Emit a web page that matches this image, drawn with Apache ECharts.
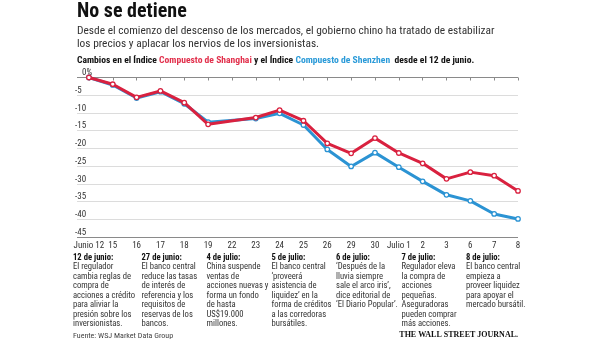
<!DOCTYPE html>
<html>
<head>
<meta charset="utf-8">
<script src="https://cdn.jsdelivr.net/npm/echarts@6/dist/echarts.min.js"></script>
<style>
  html, body { margin: 0; padding: 0; background: #fff; }
  #chart { width: 600px; height: 344px; }
</style>
</head>
<body>
<div id="chart"></div>
<script>
// Trading days since 12 June
var dates = ['Junio 12', '15', '16', '17', '18', '19', '22', '23', '24', '25', '26', '29', '30', 'Julio 1', '2', '3', '6', '7', '8'];
// Cumulative change, percent (22 June has no marker in the series)
var shanghai = [0, -1.9, -5.6, -3.8, -7.1, -13.2, null, -11.3, -9.2, -12.2, -18.6, -21.4, -17.1, -21.3, -24.2, -28.6, -26.7, -27.7, -32.0];
var shenzhen = [0, -2.1, -5.8, -4.0, -7.4, -12.6, null, -11.6, -10.1, -13.4, -20.3, -25.1, -21.2, -25.3, -29.3, -33.1, -34.8, -38.5, -39.9];
var yTicks = [-45, -40, -35, -30, -25, -20, -15, -10, -5, 0];

// Policy responses listed under the chart
var eventHeads = ['12 de junio:', '27 de junio:', '4 de julio:', '5 de julio:', '6 de julio:', '7 de julio:', '8 de julio:'];
var eventBodies = [
  ['El regulador', 'cambia reglas de', 'compra de', 'acciones a crédito', 'para aliviar la', 'presión sobre los', 'inversionistas.'],
  ['El banco central', 'reduce las tasas', 'de interés de', 'referencia y los', 'requisitos de', 'reservas de los', 'bancos.'],
  ['China suspende', 'ventas de', 'acciones nuevas y', 'forma un fondo', 'de hasta', 'US$19.000', 'millones.'],
  ['El banco central', '\u2018proveerá', 'asistencia de', 'liquidez\u2019 en la', 'forma de créditos', 'a las corredoras', 'bursátiles.'],
  ['\u2018Después de la', 'lluvia siempre', 'sale el arco iris\u2019,', 'dice editorial de', '\u2018El Diario Popular\u2019.'],
  ['Regulador eleva', 'la compra de', 'acciones', 'pequeñas.', 'Aseguradoras', 'pueden comprar', 'más acciones.'],
  ['El banco central', 'empieza a', 'proveer liquidez', 'para apoyar el', 'mercado bursátil.']
];

var NARROW = '"Liberation Sans Narrow", "Arial Narrow", "Roboto Condensed", sans-serif';
var RED = '#d9213f';
var BLUE = '#2b93d3';

var chart = echarts.init(document.getElementById('chart'), null, { renderer: 'canvas' });

function pairs(arr) {
  return arr.map(function (v, i) { return [i, v]; });
}

var idx = dates.map(function (d, i) { return i; });

var graphics = [
  { type: 'text', left: 77, top: 2, style: { text: 'No se detiene', font: 'bold 20px ' + NARROW, fill: '#111' } },
  { type: 'text', left: 77, top: 25, style: { text: 'Desde el comienzo del descenso de los mercados, el gobierno chino ha tratado de estabilizar\nlos precios y aplacar los nervios de los inversionistas.', font: '11.4px ' + NARROW, fill: '#333', lineHeight: 12.5 } },
  { type: 'text', left: 77, top: 56, style: {
      text: '{b|Cambios en el Índice }{r|Compuesto de Shanghai}{b| y el Índice }{l|Compuesto de Shenzhen}{b|  desde el 12 de junio.}',
      rich: {
        b: { font: 'bold 9.6px ' + NARROW, fill: '#111' },
        r: { font: 'bold 9.6px ' + NARROW, fill: '#e2304c' },
        l: { font: 'bold 9.6px ' + NARROW, fill: '#2a9ad8' }
      }
  } },
  { type: 'text', left: 73, top: 332, style: { text: 'Fuente: WSJ Market Data Group', font: '8px ' + NARROW, fill: '#444' } },
  { type: 'text', right: 82, top: 331, style: { text: 'THE WALL STREET JOURNAL.', font: 'bold 8px "Liberation Serif", serif', fill: '#111' } }
];

var colX = [73, 141.5, 206.5, 271.5, 336, 401.5, 466];
eventHeads.forEach(function (h, i) {
  graphics.push({ type: 'text', left: colX[i], top: 253, style: { text: h, font: 'bold 8.6px ' + NARROW, fill: '#111' } });
  graphics.push({ type: 'text', left: colX[i], top: 262.5, style: { text: eventBodies[i].join('\n'), font: '8.6px ' + NARROW, fill: '#333', lineHeight: 9.5 } });
});

var gridColors = yTicks.map(function (v, i) { return (i === 0 || i === yTicks.length - 1) ? '#8a8a8a' : '#dcdcdc'; });

chart.setOption({
  animation: false,
  backgroundColor: '#fff',
  graphic: graphics,
  grid: { left: 77, right: 82, top: 77.5, bottom: 107 },
  xAxis: {
    type: 'value',
    min: -0.5,
    max: dates.length - 1,
    axisLine: { show: false },
    splitLine: { show: false },
    axisTick: { show: true, customValues: idx, length: 3, inside: false, lineStyle: { color: '#8a8a8a' } },
    axisLabel: {
      customValues: idx,
      formatter: function (v) { return dates[Math.round(v)]; },
      fontFamily: NARROW, fontSize: 9, color: '#333', margin: 4
    }
  },
  yAxis: {
    type: 'value',
    min: -45,
    max: 0,
    interval: 5,
    axisLine: { show: false },
    axisTick: { show: false },
    splitLine: { show: true, lineStyle: { color: gridColors, width: 1 } },
    axisLabel: {
      align: 'left',
      verticalAlign: 'bottom',
      margin: 2,
      fontFamily: NARROW, fontSize: 9, color: '#333',
      formatter: function (v) { return v === 0 ? '{z|0%}' : String(v); },
      rich: { z: { fontFamily: NARROW, fontSize: 9, color: '#333', padding: [0, 0, 0, 7] } }
    }
  },
  series: [
    {
      name: 'Compuesto de Shenzhen', type: 'line', data: pairs(shenzhen), connectNulls: true, z: 2,
      lineStyle: { color: BLUE, width: 3 },
      symbol: 'circle', symbolSize: 4.5, showSymbol: true,
      itemStyle: { color: '#fff', borderColor: BLUE, borderWidth: 1.3 }
    },
    {
      name: 'Compuesto de Shanghai', type: 'line', data: pairs(shanghai), connectNulls: true, z: 3,
      lineStyle: { color: RED, width: 3 },
      symbol: 'circle', symbolSize: 4.5, showSymbol: true,
      itemStyle: { color: '#fff', borderColor: RED, borderWidth: 1.3 }
    }
  ]
});
</script>
</body>
</html>
